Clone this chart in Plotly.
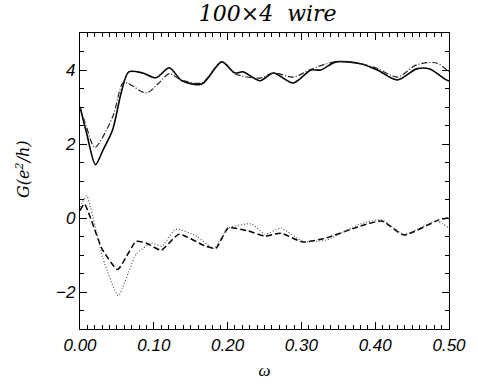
import plotly.graph_objects as go

# Upper pair (solid, dash-dot)
solid_x = [0, 0.009, 0.021, 0.031, 0.044, 0.056, 0.066, 0.085, 0.103, 0.121, 0.138, 0.165, 0.192, 0.21, 0.221, 0.244, 0.262, 0.289, 0.313, 0.326, 0.347, 0.38, 0.403, 0.43, 0.456, 0.474, 0.494, 0.5]
solid_y = [3.0, 2.29, 1.44, 1.83, 2.37, 3.4, 3.95, 3.92, 3.79, 4.06, 3.71, 3.62, 4.22, 3.92, 3.95, 3.71, 3.92, 3.65, 4.0, 4.0, 4.22, 4.17, 4.0, 3.73, 4.03, 4.03, 3.76, 3.7]

dashdot_x = [0, 0.009, 0.02, 0.044, 0.058, 0.064, 0.09, 0.107, 0.121, 0.137, 0.165, 0.192, 0.21, 0.244, 0.262, 0.289, 0.313, 0.345, 0.38, 0.403, 0.43, 0.456, 0.483, 0.5]
dashdot_y = [3.0, 2.45, 1.91, 2.72, 3.65, 3.65, 3.38, 3.65, 3.9, 3.73, 3.65, 4.22, 3.9, 3.78, 3.92, 3.81, 4.02, 4.22, 4.17, 4.04, 3.81, 4.14, 4.19, 3.95]

# Lower pair (dashed, dotted)
dashed_x = [0, 0.006, 0.03, 0.051, 0.076, 0.09, 0.11, 0.134, 0.17, 0.184, 0.201, 0.228, 0.251, 0.272, 0.302, 0.333, 0.38, 0.409, 0.439, 0.486, 0.5]
dashed_y = [0.2, 0.38, -0.84, -1.39, -0.63, -0.68, -0.87, -0.44, -0.76, -0.82, -0.27, -0.35, -0.49, -0.41, -0.65, -0.54, -0.22, -0.08, -0.46, -0.05, 0.0]

dotted_x = [0, 0.009, 0.031, 0.052, 0.076, 0.097, 0.111, 0.13, 0.158, 0.181, 0.201, 0.232, 0.251, 0.272, 0.302, 0.333, 0.38, 0.409, 0.439, 0.483, 0.5]
dotted_y = [0.3, 0.6, -1.09, -2.1, -0.98, -0.68, -0.76, -0.3, -0.49, -0.82, -0.27, -0.16, -0.44, -0.27, -0.63, -0.6, -0.16, -0.05, -0.44, -0.08, -0.27]

x_tickvals = [0.0, 0.1, 0.2, 0.3, 0.4, 0.5]
x_ticktext = ["0.00", "0.10", "0.20", "0.30", "0.40", "0.50"]
y_tickvals = [-2, 0, 2, 4]
y_ticktext = ["−2", "0", "2", "4"]

fig = go.Figure()
fig.add_trace(go.Scatter(x=solid_x, y=solid_y, mode="lines",
                         line=dict(color="black", width=1.6, shape="spline", smoothing=0.8)))
fig.add_trace(go.Scatter(x=dashdot_x, y=dashdot_y, mode="lines",
                         line=dict(color="#222", width=1.2, dash="6px,2px,1px,2px", shape="spline", smoothing=0.8)))
fig.add_trace(go.Scatter(x=dashed_x, y=dashed_y, mode="lines",
                         line=dict(color="black", width=1.5, dash="6px,3px", shape="spline", smoothing=0.5)))
fig.add_trace(go.Scatter(x=dotted_x, y=dotted_y, mode="lines",
                         line=dict(color="#555", width=1.2, dash="1px,2px", shape="spline", smoothing=0.5)))

tickfont = dict(family="Liberation Sans", size=17, color="black", style="italic")
fig.update_layout(
    width=478, height=389,
    margin=dict(l=80, r=26, t=33, b=60),
    paper_bgcolor="white", plot_bgcolor="white",
    showlegend=False,
    title=dict(text="100×4  wire", x=0.56, xanchor="center", y=0.985, yanchor="top",
               font=dict(family="DejaVu Serif", size=22, color="black", style="italic")),
    xaxis=dict(range=[0, 0.5], tickvals=x_tickvals, ticktext=x_ticktext,
               showline=True, linecolor="black", linewidth=1.2, mirror="allticks",
               ticks="inside", ticklen=7, tickcolor="black", tickwidth=1,
               minor=dict(ticks="inside", dtick=0.01, ticklen=4, tickcolor="black", showgrid=False),
               showgrid=False, zeroline=False, tickfont=tickfont,
               title=dict(text="ω", font=dict(family="Liberation Serif", size=17, color="black", style="italic"), standoff=10)),
    yaxis=dict(range=[-3, 5], tickvals=y_tickvals, ticktext=y_ticktext,
               showline=True, linecolor="black", linewidth=1.2, mirror="allticks",
               ticks="inside", ticklen=7, tickcolor="black", tickwidth=1,
               minor=dict(ticks="inside", dtick=0.5, ticklen=4, tickcolor="black", showgrid=False),
               showgrid=False, zeroline=False, tickfont=tickfont),
    annotations=[dict(text="G(e<sup>2</sup>/h)", xref="paper", yref="paper",
                      x=-0.155, y=0.54, xanchor="center", yanchor="middle", textangle=-90,
                      showarrow=False,
                      font=dict(family="DejaVu Serif", size=16, color="black", style="italic"))],
)

fig.write_html("out.html", config={"displayModeBar": False},
               post_script="document.body.style.margin='0';")
